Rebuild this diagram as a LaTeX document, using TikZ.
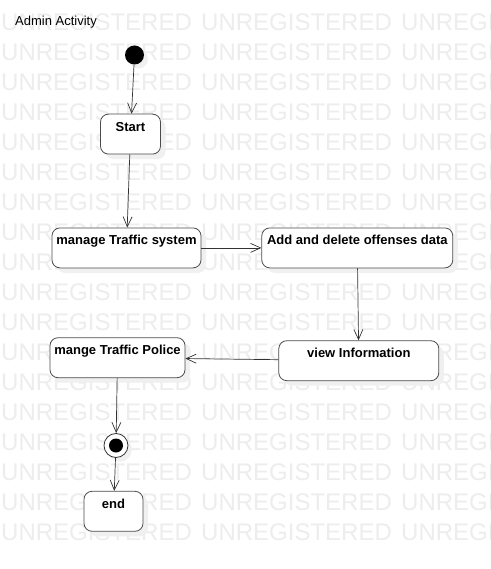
\documentclass[tikz,border=0pt]{standalone}
\usepackage{fontspec}
\setmainfont{Liberation Sans}
\usetikzlibrary {positioning,
                 arrows.meta,
                 shadows}
\tikzset{
         state/.style={draw=black!70, line width=0.8pt, fill=white, rounded corners=8pt,
                       minimum height=40pt, inner xsep=4pt, inner ysep=7pt,
                       text height=10pt, text depth=16pt,
                       font=\bfseries\fontsize{13}{15}\selectfont,
                       drop shadow={shadow xshift=5pt, shadow yshift=-5pt, fill=black!6, opacity=1}},
         startdot/.style={circle, fill=black, minimum size=19pt, inner sep=0pt,
                       drop shadow={shadow xshift=4pt, shadow yshift=-4pt, fill=black!6, opacity=1}},
         enddot/.style={circle, draw=black!80, fill=white, line width=0.8pt,
                       minimum size=24pt, inner sep=0pt,
                       path picture={\fill[black] (path picture bounding box.center) circle (7pt);},
                       drop shadow={shadow xshift=4pt, shadow yshift=-4pt, fill=black!6, opacity=1}},
         myarrow/.style={-{Straight Barb[length=10pt, width=9pt]}, draw=black!80, line width=0.7pt},
         watermark/.style={anchor=base west, inner sep=0pt, text=black!7,
                       font=\fontsize{24}{24}\selectfont},
}

\begin{document}
\begin{tikzpicture}[x=1pt, y=1pt]
    % Rahmen
    \useasboundingbox (0,0) rectangle (490,-569);
    \fill[white] (0,0) rectangle (490,-569);

    % Wasserzeichen
    \begin{scope}
        \clip (0,0) rectangle (490,-569);
        \foreach \r in {0,...,17}
            \foreach \c in {0,1,2}
                \node[watermark] (wm-\r-\c) at (1+200*\c, -30.5-30*\r) {UNREGISTERED};
    \end{scope}

    % Titel
    \node[anchor=base west, inner sep=0pt, font=\fontsize{13}{15}\selectfont] (title) at (15,-26) {Admin Activity};

    % Knoten
    \node[startdot] (init) at (134.5,-55) {};
    \node[state, minimum width=60pt, below=49pt of init, xshift=-4pt] (start) {Start};
    \node[state, minimum width=149pt, below=73pt of start, xshift=-4pt] (manage) {manage Traffic system};
    \node[state, minimum width=191pt, right=60pt of manage] (offenses) {Add and delete offenses data};
    \node[state, minimum width=160pt, below=72pt of offenses, xshift=1.5pt] (view) {view Information};
    \node[state, minimum width=135pt, left=93pt of view, yshift=3pt] (police) {mange Traffic Police};
    \node[enddot, below=55pt of police, xshift=-1.5pt] (final) {};
    \node[state, minimum width=59pt, below=33pt of final, xshift=-2.5pt] (end) {end};

    % Pfeile
    \draw[myarrow] (init) -- (start);
    \draw[myarrow] (start) -- (manage);
    \draw[myarrow] (manage) -- (offenses);
    \draw[myarrow] (offenses) -- (view);
    \draw[myarrow] (view) -- (police);
    \draw[myarrow] (police) -- (final);
    \draw[myarrow] (final) -- (end);
\end{tikzpicture}
\end{document}
